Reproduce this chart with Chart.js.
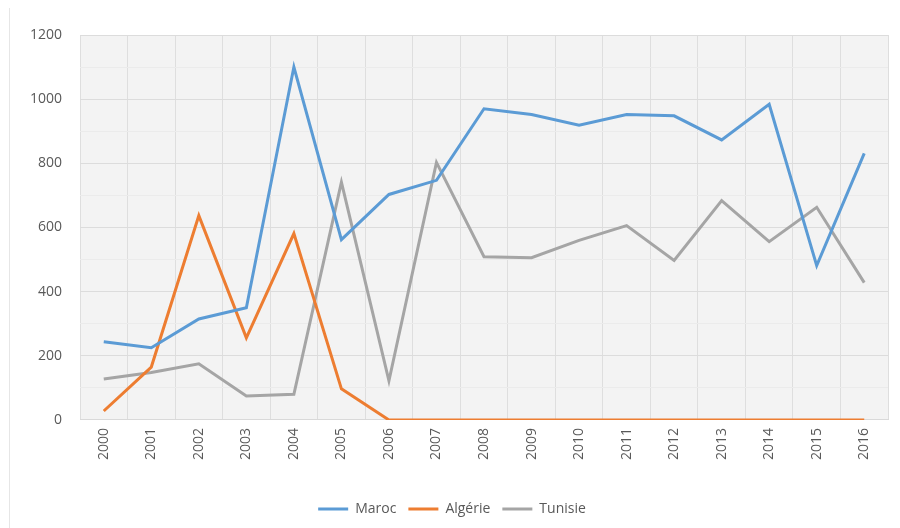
<!DOCTYPE html>
<html>
<head>
<meta charset="utf-8">
<script src="https://cdn.jsdelivr.net/npm/chart.js@4.4.1/dist/chart.umd.min.js"></script>
<style>
  html, body { margin: 0; padding: 0; background: #fff; }
  #wrap { position: relative; width: 900px; height: 528px; }
  #edge { position: absolute; left: 9px; top: 8px; bottom: 0; width: 1px; background: #e6e6e6; }
</style>
</head>
<body>
<div id="wrap">
  <div id="edge"></div>
  <canvas id="chart" width="900" height="528"></canvas>
</div>
<script>
const years = ["2000","2001","2002","2003","2004","2005","2006","2007","2008","2009","2010","2011","2012","2013","2014","2015","2016"];
const maroc = [244, 225, 315, 350, 1100, 562, 703, 747, 970, 952, 919, 952, 948, 873, 984, 481, 831];
const algerie = [28, 165, 637, 256, 581, 97, 0, 0, 0, 0, 0, 0, 0, 0, 0, 0, 0];
const tunisie = [128, 148, 175, 75, 80, 741, 122, 803, 509, 506, 560, 606, 497, 684, 556, 663, 428];

const plotBg = {
  id: "plotBg",
  beforeDraw(chart) {
    const a = chart.chartArea, ctx = chart.ctx;
    ctx.save();
    ctx.fillStyle = "#f3f3f3";
    ctx.fillRect(a.left, a.top, a.right - a.left, a.bottom - a.top);
    ctx.restore();
  }
};

function line(label, data, color) {
  return {
    label: label,
    data: data,
    borderColor: color,
    backgroundColor: color,
    borderWidth: 3,
    pointRadius: 0,
    tension: 0
  };
}

new Chart(document.getElementById("chart"), {
  type: "line",
  data: {
    labels: years,
    datasets: [
      line("Maroc", maroc, "#5b9bd5"),
      line("Algérie", algerie, "#ed7d31"),
      line("Tunisie", tunisie, "#a5a5a5")
    ]
  },
  options: {
    responsive: false,
    animation: false,
    layout: { padding: { top: 35, right: 12, left: 16, bottom: 2 } },
    plugins: {
      legend: {
        position: "bottom",
        labels: {
          boxWidth: 30,
          boxHeight: 0,
          padding: 12,
          color: "#595959",
          font: { family: "Open Sans", size: 14 }
        }
      },
      tooltip: { enabled: false }
    },
    scales: {
      x: {
        offset: true,
        afterFit(scale) { scale.height = scale.height + 22; },
        grid: { offset: true, color: "#dedede", drawTicks: false },
        border: { color: "#d9d9d9" },
        ticks: {
          maxRotation: 90,
          minRotation: 90,
          padding: 8,
          color: "#595959",
          font: { family: "Open Sans", size: 14 }
        }
      },
      y: {
        min: 0,
        max: 1200,
        afterFit(scale) { scale.width = 64; },
        grid: {
          color: ctx => (ctx.tick && ctx.tick.value % 200 === 0) ? "#dcdcdc" : "#ebebeb",
          drawTicks: false
        },
        border: { display: false },
        ticks: {
          stepSize: 100,
          padding: 18,
          color: "#595959",
          font: { family: "Open Sans", size: 14 },
          callback: v => v % 200 === 0 ? v : ""
        }
      }
    }
  },
  plugins: [plotBg]
});
</script>
</body>
</html>
